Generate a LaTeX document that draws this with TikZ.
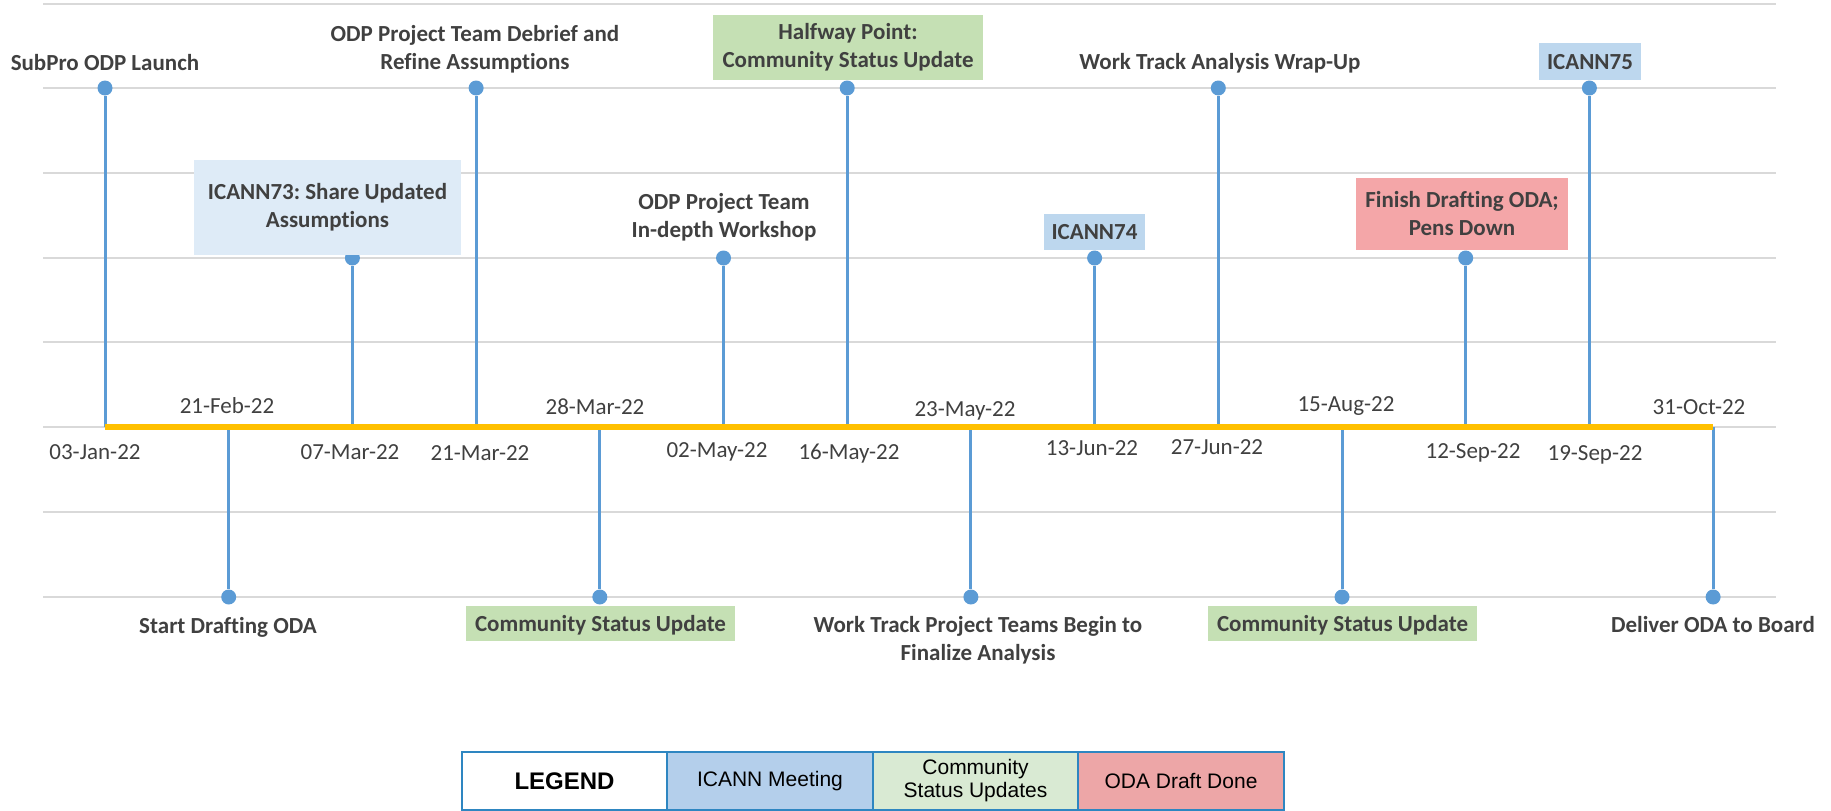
\documentclass[tikz,border=0pt]{standalone}
\usepackage{fontspec}
\setmainfont{Carlito}[Ligatures=NoCommon]
\newfontfamily\legendfont{Liberation Sans}
\usetikzlibrary{positioning}
\frenchspacing
\definecolor{gridgray}{HTML}{D9D9D9}
\definecolor{stemblue}{HTML}{5B9BD5}
\definecolor{axisgold}{HTML}{FFC000}
\definecolor{textgray}{HTML}{404040}
\definecolor{paleblue}{HTML}{DEEBF7}
\definecolor{icannblue}{HTML}{BDD7EE}
\definecolor{updgreen}{HTML}{C5E0B4}
\definecolor{draftpink}{HTML}{F4A6A8}
\definecolor{legborder}{HTML}{2E86C1}
\definecolor{legblue}{HTML}{B4CFEB}
\definecolor{leggreen}{HTML}{D9EAD3}
\definecolor{legpink}{HTML}{EDA6A7}
\tikzset{
  grid line/.style={gridgray,line width=2pt},
  stem/.style={stemblue,line width=3pt},
  axis line/.style={axisgold,line width=6pt},
  evdot/.style={circle,fill=stemblue,inner sep=0pt,minimum size=15pt},
  evlabel/.style={text=textgray,font=\fontsize{23}{28}\selectfont\bfseries,align=center,inner sep=0pt},
  oneline/.style={text height=15pt,text depth=0pt},
  datelabel/.style={text=textgray,font=\fontsize{23}{28}\selectfont,inner sep=0pt,text height=15pt,text depth=0pt},
  legcell/.style={draw=legborder,line width=2pt,outer sep=0pt,minimum width=205.5pt,minimum height=58pt,
    align=center,font=\legendfont\fontsize{21}{23}\selectfont}
}

\begin{document}
\begin{tikzpicture}[x=1pt,y=-1pt]
  \useasboundingbox (0,0) rectangle (1831,811);
  \foreach \y in {4,88,173,258,342,427,512,597} {
    \draw[grid line] (43,\y) -- (1776,\y);
  }
  \foreach \i in {0,...,13} {
    \coordinate (a\i) at ({105+123.7*\i},427);
  }
  \foreach \i/\h in {0/88,1/597,2/258,3/88,4/597,5/258,6/88,7/597,8/258,9/88,10/597,11/258,12/88,13/597} {
    \node[evdot] (p\i) at ({105+123.7*\i},\h) {};
    \draw[stem] (a\i) -- (p\i);
  }
  \draw[axis line] (a0) -- (a13);
  \foreach \i/\x/\y/\d in {0/95/452/03-Jan-22,1/227/406/21-Feb-22,2/350/452/07-Mar-22,3/480/453/21-Mar-22,
      4/595/407/28-Mar-22,5/717/450/02-May-22,6/849/452/16-May-22,7/965/409/23-May-22,
      8/1092/448/13-Jun-22,9/1217/447/27-Jun-22,10/1346/404/15-Aug-22,11/1473/451/12-Sep-22,
      12/1595/453/19-Sep-22,13/1699/407/31-Oct-22} {
    \node[datelabel] (d\i) at (\x,\y) {\d};
  }
  \node[evlabel,oneline] (launch) at (105,63) {SubPro ODP Launch};
  \node[evlabel] (debrief) at (475,49) {ODP Project Team Debrief and\\Refine Assumptions};
  \node[evlabel,fill=paleblue,minimum width=267pt,minimum height=95pt] (icann73) at (327.5,207.5)
    {ICANN73: Share Updated\\Assumptions};
  \node[evlabel] (workshop) at (724,217) {ODP Project Team\\In-depth Workshop};
  \node[evlabel,fill=updgreen,minimum width=270pt,minimum height=65pt] (halfway) at (848,47.5)
    {Halfway Point:\\Community Status Update};
  \node[evlabel,oneline,fill=icannblue,minimum width=101pt,minimum height=36pt] (icann74) at (1094.5,232) {ICANN74};
  \node[evlabel,oneline] (wrapup) at (1220,62) {Work Track Analysis Wrap-Up};
  \node[evlabel,oneline,fill=icannblue,minimum width=102pt,minimum height=37pt] (icann75) at (1590,61.5) {ICANN75};
  \node[evlabel,fill=draftpink,minimum width=212pt,minimum height=72pt] (finish) at (1462,214)
    {Finish Drafting ODA;\\Pens Down};
  \node[evlabel,oneline] (startdraft) at (228,626) {Start Drafting ODA};
  \node[evlabel,oneline,fill=updgreen,minimum width=269pt,minimum height=35pt] (update1) at (600.5,623.5)
    {Community Status Update};
  \node[evlabel] (finalize) at (978,640) {Work Track Project Teams Begin to\\Finalize Analysis};
  \node[evlabel,oneline,fill=updgreen,minimum width=269pt,minimum height=35pt] (update2) at (1342.5,623.5)
    {Community Status Update};
  \node[evlabel,oneline] (deliver) at (1713,625) {Deliver ODA to Board};
  \node[legcell] (leg0) at (564.5,781) {\fontsize{24}{26}\selectfont\bfseries LEGEND};
  \node[legcell,fill=legblue,right=0pt of leg0] (leg1) {ICANN Meeting};
  \node[legcell,fill=leggreen,right=0pt of leg1] (leg2) {Community\\Status Updates};
  \node[legcell,fill=legpink,right=0pt of leg2] (leg3) {ODA Draft Done};
\end{tikzpicture}
\end{document}
